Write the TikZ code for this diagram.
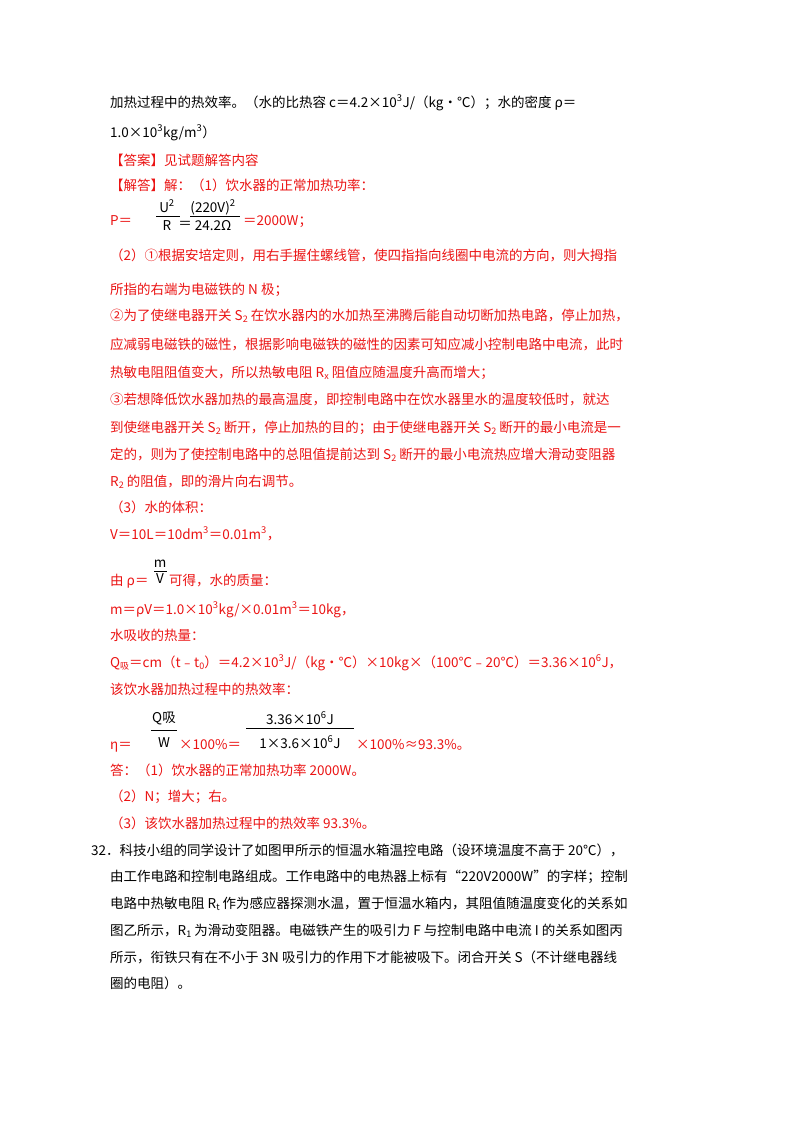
\documentclass[tikz,border=0pt]{standalone}
\usepackage{fontspec}
\setmainfont{Noto Sans CJK SC}
\usetikzlibrary{positioning}
\definecolor{ansred}{RGB}{235,20,20}
\newcommand{\ssup}[1]{\textsuperscript{#1}}
\newcommand{\ssub}[1]{\raisebox{-0.3ex}{\fontsize{9}{9}\selectfont #1}}
\begin{document}
\begin{tikzpicture}[x=1pt,y=-1pt,
    txt/.style={anchor=base west,inner sep=0pt,font=\fontsize{13.5}{14}\selectfont},
    ans/.style={txt,text=ansred},
    frac/.style={anchor=base,inner sep=0pt,font=\fontsize{13.5}{14}\selectfont}]
  \useasboundingbox[fill=white] (0,0) rectangle (800,1132);
  % question tail
  \node[txt] (q1) at (110,107) {加热过程中的热效率。（水的比热容 c＝4.2×10\ssup{3}J/（kg•℃）；水的密度 ρ＝};
  \node[txt] (q2) at (110,137) {1.0×10\ssup{3}kg/m\ssup{3}）};
  % answer
  \node[ans] (a0) at (110,165) {【答案】见试题解答内容};
  \node[ans] (a1) at (110,190) {【解答】解：（1）饮水器的正常加热功率：};
  \node[ans] (p0) at (110,225) {P＝};
  \node[frac] (p1) at (167,212) {U\ssup{2}};
  \node[frac] (p2) at (167,230) {R};
  \draw (156,216) -- (180,216);
  \node[frac] (p3) at (185,228) {＝};
  \node[frac] (p4) at (213,212) {(220V)\ssup{2}};
  \node[frac] (p5) at (213,230) {24.2Ω};
  \draw (190,216) -- (240,216);
  \node[ans] (p6) at (243,225) {＝2000W；};
  \node[ans] (b1) at (110,260) {（2）①根据安培定则，用右手握住螺线管，使四指指向线圈中电流的方向，则大拇指};
  \node[ans] (b2) at (110,294) {所指的右端为电磁铁的 N 极；};
  \node[ans] (b3) at (110,320) {②为了使继电器开关 S\ssub{2} 在饮水器内的水加热至沸腾后能自动切断加热电路，停止加热，};
  \node[ans] (b4) at (110,349) {应减弱电磁铁的磁性，根据影响电磁铁的磁性的因素可知应减小控制电路中电流，此时};
  \node[ans] (b5) at (110,377) {热敏电阻阻值变大，所以热敏电阻 R\ssub{x} 阻值应随温度升高而增大；};
  \node[ans] (b6) at (110,404) {③若想降低饮水器加热的最高温度，即控制电路中在饮水器里水的温度较低时，就达};
  \node[ans] (b7) at (110,432) {到使继电器开关 S\ssub{2} 断开，停止加热的目的；由于使继电器开关 S\ssub{2} 断开的最小电流是一};
  \node[ans] (b8) at (110,459) {定的，则为了使控制电路中的总阻值提前达到 S\ssub{2} 断开的最小电流热应增大滑动变阻器};
  \node[ans] (b9) at (110,486) {R\ssub{2} 的阻值，即的滑片向右调节。};
  \node[ans] (c1) at (110,512) {（3）水的体积：};
  \node[ans] (c2) at (110,539) {V＝10L＝10dm\ssup{3}＝0.01m\ssup{3}，};
  \node[ans] (c3) at (110,585) {由 ρ＝};
  \node[frac] (c4) at (160,567) {m};
  \node[frac] (c5) at (160,583) {V};
  \draw (154,571) -- (167,571);
  \node[ans] (c6) at (169,585) {可得，水的质量：};
  \node[ans] (c7) at (110,614) {m＝ρV＝1.0×10\ssup{3}kg/×0.01m\ssup{3}＝10kg，};
  \node[ans] (c8) at (110,640) {水吸收的热量：};
  \node[ans] (c9) at (110,667) {Q\ssub{吸}＝cm（t﹣t\ssub{0}）＝4.2×10\ssup{3}J/（kg•℃）×10kg×（100℃﹣20℃）＝3.36×10\ssup{6}J，};
  \node[ans] (c10) at (110,694) {该饮水器加热过程中的热效率：};
  \node[ans] (e0) at (110,749) {η＝};
  \node[frac] (e1) at (164,722) {Q吸};
  \node[frac] (e2) at (164,747) {W};
  \draw (151,730) -- (177,730);
  \node[ans] (e3) at (179,749) {×100\%＝};
  \node[frac] (e4) at (300,724) {3.36×10\ssup{6}J};
  \node[frac] (e5) at (300,748) {1×3.6×10\ssup{6}J};
  \draw (246,728) -- (354,728);
  \node[ans] (e6) at (356,749) {×100\%≈93.3\%。};
  \node[ans] (d1) at (110,775) {答：（1）饮水器的正常加热功率 2000W。};
  \node[ans] (d2) at (110,801) {（2）N；增大；右。};
  \node[ans] (d3) at (110,828) {（3）该饮水器加热过程中的热效率 93.3\%。};
  % next question
  \node[txt] (n1) at (91,855) {32．科技小组的同学设计了如图甲所示的恒温水箱温控电路（设环境温度不高于 20℃），};
  \node[txt] (n2) at (110,881) {由工作电路和控制电路组成。工作电路中的电热器上标有“220V2000W”的字样；控制};
  \node[txt] (n3) at (110,908) {电路中热敏电阻 R\ssub{t} 作为感应器探测水温，置于恒温水箱内，其阻值随温度变化的关系如};
  \node[txt] (n4) at (110,935) {图乙所示，R\ssub{1} 为滑动变阻器。电磁铁产生的吸引力 F 与控制电路中电流 I 的关系如图丙};
  \node[txt] (n5) at (110,962) {所示，衔铁只有在不小于 3N 吸引力的作用下才能被吸下。闭合开关 S（不计继电器线};
  \node[txt] (n6) at (110,988) {圈的电阻）。};
\end{tikzpicture}
\end{document}
